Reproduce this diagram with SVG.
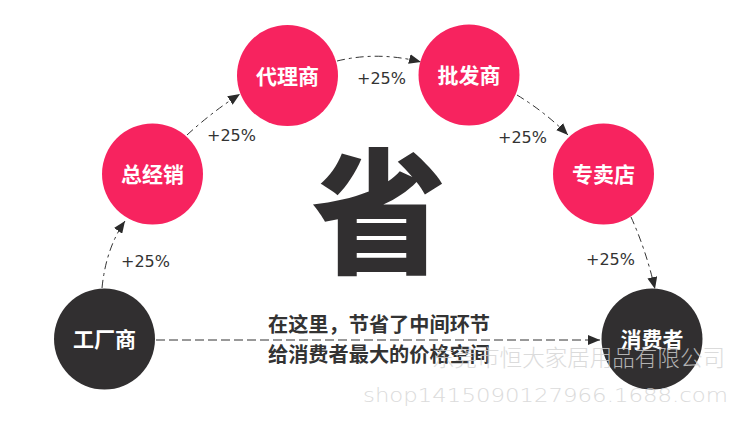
<svg xmlns="http://www.w3.org/2000/svg" width="753" height="424" viewBox="0 0 753 424">
<style>
.pink{fill:#F7235F}
.dark{fill:#312F30}
.nl{font-family:"Noto Sans CJK SC","Noto Sans",sans-serif;font-size:21px;font-weight:700;fill:#fff;text-anchor:middle}
.pct{font-family:"DejaVu Sans",sans-serif;font-size:16px;fill:#333}
.con{fill:none;stroke:#333;stroke-width:1;stroke-dasharray:8 4 3 4}
.hcon{fill:none;stroke:#333;stroke-width:1;stroke-dasharray:9 4}
.mid{font-family:"Noto Sans CJK SC",sans-serif;font-size:20px;font-weight:700;fill:#333}
.wm{fill:#D3D3D3;opacity:0.8}
</style>
<defs>
<marker id="ah" viewBox="0 0 12 10" refX="12" refY="5" markerWidth="12" markerHeight="10" markerUnits="userSpaceOnUse" orient="auto">
<path d="M0,0 L12,5 L0,10 z" fill="#2b2b2b"/>
</marker>
</defs>
<rect width="753" height="424" fill="#fff"/>
<g id="connectors">
<path class="con" d="M102,288 Q106,248 125,221" marker-end="url(#ah)"/>
<path class="con" d="M187,135 Q212,112 240,94" marker-end="url(#ah)"/>
<path class="con" d="M337,61 Q378,51 421,62" marker-end="url(#ah)"/>
<path class="con" d="M517,95 Q545,112 568,135" marker-end="url(#ah)"/>
<path class="con" d="M631,217 Q646,250 655,289" marker-end="url(#ah)"/>
<path class="hcon" d="M156,340 L600,340" marker-end="url(#ah)"/>
</g>
<g id="labels">
<text class="pct" x="121" y="267">+25%</text>
<text class="pct" x="207" y="141">+25%</text>
<text class="pct" x="357" y="84">+25%</text>
<text class="pct" x="498" y="143">+25%</text>
<text class="pct" x="586" y="265">+25%</text>
</g>
<g id="n-factory">
<circle class="dark" cx="104.5" cy="339" r="50.5"/>
<text class="nl" x="104.5" y="347">工厂商</text>
</g>
<g id="n-general">
<circle class="pink" cx="152.5" cy="174" r="50.5"/>
<text class="nl" x="152.5" y="182">总经销</text>
</g>
<g id="n-agent">
<circle class="pink" cx="287.5" cy="75.5" r="50.5"/>
<text class="nl" x="287.5" y="83.5">代理商</text>
</g>
<g id="n-wholesale">
<circle class="pink" cx="469" cy="75" r="50.5"/>
<text class="nl" x="469" y="83">批发商</text>
</g>
<g id="n-store">
<circle class="pink" cx="603.5" cy="174" r="50.5"/>
<text class="nl" x="603.5" y="182">专卖店</text>
</g>
<g id="n-consumer">
<circle class="dark" cx="652" cy="339" r="50.5"/>
<text class="nl" x="652" y="347">消费者</text>
</g>
<g id="center">
<text x="379" y="263" font-family="Noto Sans CJK SC,sans-serif" font-size="135" font-weight="900" fill="#312F30" text-anchor="middle">省</text>
<text class="mid" x="268" y="331.5" textLength="222" lengthAdjust="spacingAndGlyphs">在这里，节省了中间环节</text>
<text class="mid" x="268" y="361.5" textLength="222" lengthAdjust="spacingAndGlyphs">给消费者最大的价格空间</text>
</g>
<g id="watermark" class="wm">
<text x="432" y="365.5" font-family="Noto Sans CJK SC,sans-serif" font-size="22.5" font-weight="300" textLength="293" lengthAdjust="spacingAndGlyphs">东莞市恒大家居用品有限公司</text>
<text x="363" y="402" font-family="DejaVu Sans,sans-serif" font-size="19" font-weight="200" textLength="365" lengthAdjust="spacingAndGlyphs">shop1415090127966.1688.com</text>
</g>
</svg>
